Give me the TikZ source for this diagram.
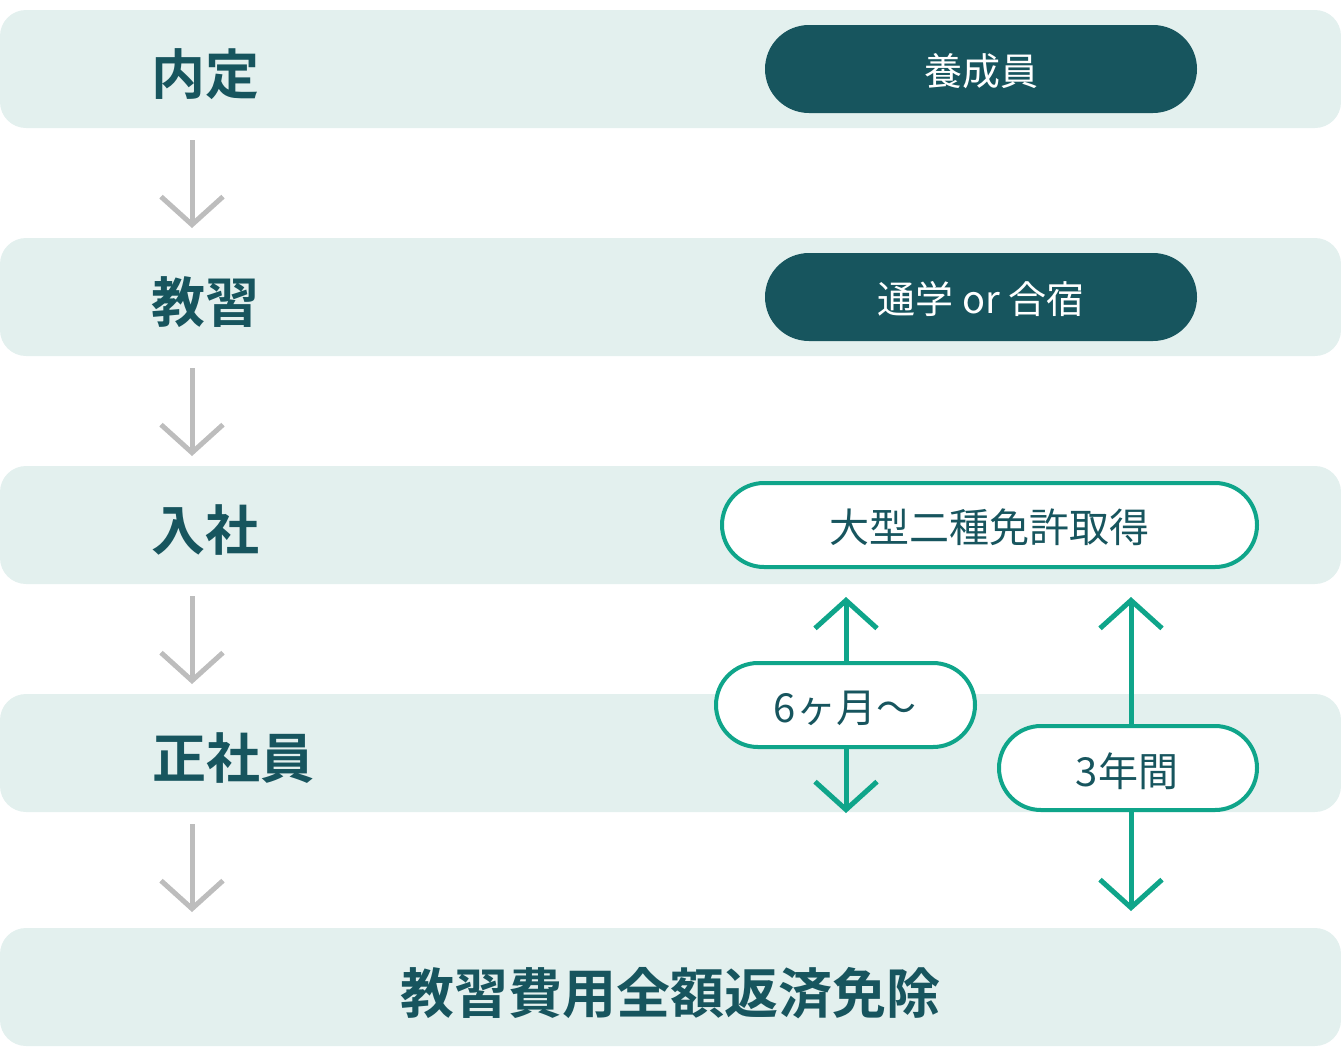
\documentclass[tikz,border=0pt]{standalone}
\usepackage{fontspec}
\newfontfamily\jp{Noto Sans CJK JP}
\newfontfamily\jpb{Noto Sans CJK JP Bold}
\usetikzlibrary{arrows.meta}
\definecolor{band}{HTML}{E3F0EE}
\definecolor{dark}{HTML}{17555E}
\definecolor{grn}{HTML}{0FA58A}
\definecolor{gry}{HTML}{BDBDBD}
\begin{document}
\begin{tikzpicture}[x=1pt,y=-1pt,
  bandst/.style={fill=band,draw=none,rounded corners=26pt},
  lab/.style={font=\jpb\fontsize{54}{60}\selectfont,text=dark},
  dpill/.style={fill=dark,rounded corners=44pt,text=white,font=\jp\fontsize{38}{44}\selectfont},
  gpill/.style={fill=white,draw=grn,line width=4pt,rounded corners=42pt,text=dark,font=\jp\fontsize{40}{46}\selectfont},
  garr/.style={draw=gry,line width=5pt,-{Straight Barb[length=28pt,width=62pt]}},
  narr/.style={draw=grn,line width=5pt,-{Straight Barb[length=28pt,width=62pt]}}]
\useasboundingbox (0,0) rectangle (1341,1047);
\fill[bandst] (0,10) rectangle (1341,128);
\fill[bandst] (0,238) rectangle (1341,356);
\fill[bandst] (0,466) rectangle (1341,584);
\fill[bandst] (0,694) rectangle (1341,812);
\fill[bandst] (0,928) rectangle (1341,1046);
\node[lab] (l1) at (205,74) {内定};
\node[lab] (l2) at (205,302) {教習};
\node[lab] (l3) at (205,530) {入社};
\node[lab] (l4) at (233,758) {正社員};
\node[lab] (l5) at (670,993) {教習費用全額返済免除};
\fill[dark,rounded corners=44pt] (765,25) rectangle (1197,113);
\node[text=white,font=\jp\fontsize{38}{44}\selectfont] (p1) at (981,71) {養成員};
\fill[dark,rounded corners=44pt] (765,253) rectangle (1197,341);
\node[text=white,font=\jp\fontsize{38}{44}\selectfont] (p2) at (981,299) {通学 or 合宿};
\draw[gpill] (722,483) rectangle (1257,567);
\node[text=dark,font=\jp\fontsize{40}{46}\selectfont] (p3) at (989,527) {大型二種免許取得};
\coordinate (a1) at (192,140); \coordinate (b1) at (192,228);
\coordinate (a2) at (192,368); \coordinate (b2) at (192,456);
\coordinate (a3) at (192,596); \coordinate (b3) at (192,684);
\coordinate (a4) at (192,824); \coordinate (b4) at (192,912);
\foreach \i in {1,...,4} \draw[garr] (a\i) -- (b\i);
\coordinate (s1) at (846,662); \coordinate (t1) at (846,597);
\coordinate (s2) at (846,747); \coordinate (t2) at (846,813);
\coordinate (s3) at (1131,725); \coordinate (t3) at (1131,597);
\coordinate (s4) at (1131,810); \coordinate (t4) at (1131,911);
\foreach \i in {1,...,4} \draw[narr] (s\i) -- (t\i);
\draw[gpill] (716,663) rectangle (975,747);
\node[text=dark,font=\jp\fontsize{40}{46}\selectfont] (p4) at (845,708) {6ヶ月〜};
\draw[gpill] (999,726) rectangle (1257,810);
\node[text=dark,font=\jp\fontsize{40}{46}\selectfont] (p5) at (1127,771) {3年間};
\end{tikzpicture}
\end{document}
